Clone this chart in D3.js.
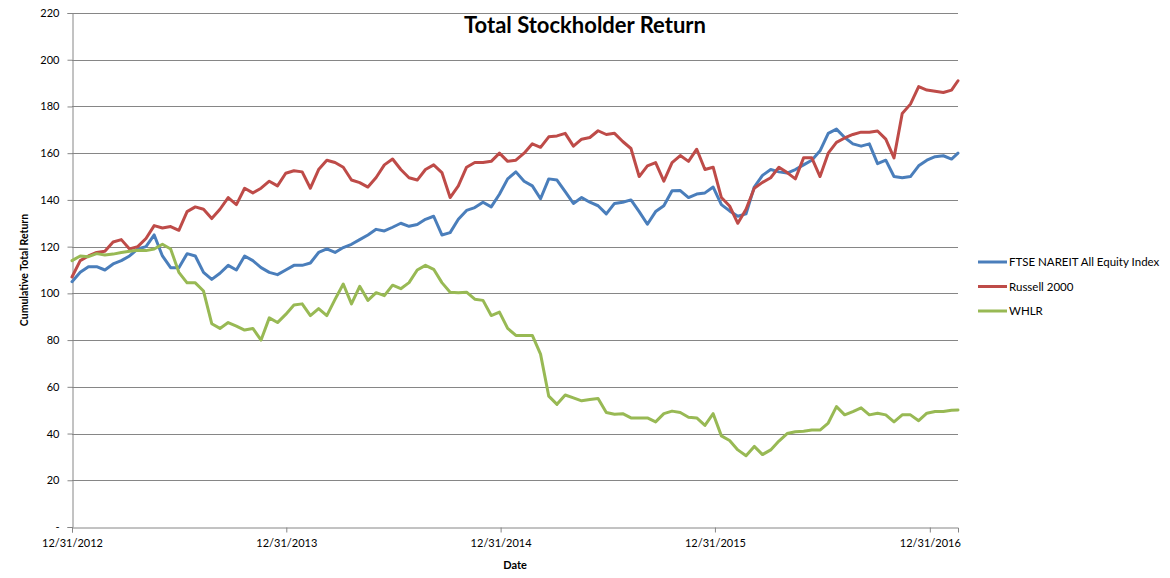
<!DOCTYPE html>
<html>
<head>
<meta charset="utf-8">
<script src="https://cdn.jsdelivr.net/npm/d3@7/dist/d3.min.js"></script>
<style>
  html, body { margin: 0; padding: 0; background: #fff; }
  svg { display: block; }
  text { font-family: Lato, "Open Sans", "DejaVu Sans", sans-serif; fill: #000; }
</style>
</head>
<body>
<svg id="chart" width="1170" height="578"></svg>
<script>
// ---- Data (biweekly samples) ----
const dates = [
  "2012-12-31","2013-01-14","2013-01-28","2013-02-11","2013-02-25","2013-03-11","2013-03-25","2013-04-08","2013-04-22","2013-05-06",
  "2013-05-20","2013-06-03","2013-06-17","2013-07-01","2013-07-15","2013-07-29","2013-08-12","2013-08-26","2013-09-09","2013-09-23",
  "2013-10-07","2013-10-21","2013-11-04","2013-11-18","2013-12-02","2013-12-16","2013-12-30","2014-01-13","2014-01-27","2014-02-10",
  "2014-02-24","2014-03-10","2014-03-24","2014-04-07","2014-04-21","2014-05-05","2014-05-19","2014-06-02","2014-06-16","2014-06-30",
  "2014-07-14","2014-07-28","2014-08-11","2014-08-25","2014-09-08","2014-09-22","2014-10-06","2014-10-20","2014-11-03","2014-11-17",
  "2014-12-01","2014-12-15","2014-12-29","2015-01-12","2015-01-26","2015-02-09","2015-02-23","2015-03-09","2015-03-23","2015-04-06",
  "2015-04-20","2015-05-04","2015-05-18","2015-06-01","2015-06-15","2015-06-29","2015-07-13","2015-07-27","2015-08-10","2015-08-24",
  "2015-09-07","2015-09-21","2015-10-05","2015-10-19","2015-11-02","2015-11-16","2015-11-30","2015-12-14","2015-12-28","2016-01-11",
  "2016-01-25","2016-02-08","2016-02-22","2016-03-07","2016-03-21","2016-04-04","2016-04-18","2016-05-02","2016-05-16","2016-05-30",
  "2016-06-13","2016-06-27","2016-07-11","2016-07-25","2016-08-08","2016-08-22","2016-09-05","2016-09-19","2016-10-03","2016-10-17",
  "2016-10-31","2016-11-14","2016-11-28","2016-12-12","2016-12-26","2017-01-09","2017-01-23","2017-02-06","2017-02-17"
];

const ftseNareit = [
  105,109,111.4,111.4,110,112.6,114,116,119,120,
  125,116,111,111,117,116,109,106,108.6,112,
  110,116,114,111,109,108,110,112,112,113,
  117.5,119,117.5,119.6,121,123,125,127.4,126.7,128.3,
  130,128.7,129.5,131.7,133,125,126,131.7,135.5,136.7,
  139,137,142.4,149,152,148,146,140.5,149,148.5,
  143.5,138.5,141,139,137.5,134,138.5,139,140,135,
  129.6,135,137.5,143.9,144,141,142.5,143,145.5,138,
  135.3,133,134,145.5,150.5,153,152,151.5,153,155,
  157,161,168.5,170.3,166.7,164,163,164,155.5,157,
  150,149.5,150,154.6,157,158.5,158.9,157.5,160
];

const russell2000 = [
  107,114,116,117.5,118,122,123,119,120,123.5,
  129,128,128.6,127,135,137,136,132,136,141,
  138,145,143,145,148,146,151.4,152.5,152,145,
  153,157,156,154,148.5,147.4,145.5,149.6,155,157.5,
  153,149.5,148.5,153,155,151.7,141,146,154,156,
  156,156.5,160,156.5,157,160,164,162.5,167,167.4,
  168.5,163,166,166.7,169.6,168,168.5,165,162,150,
  154.6,156,148,156,159,156.5,161.7,153,154,141,
  137.4,130,136,145,147.5,149.5,154,151.7,149,158,
  158,150,160,164.6,166.5,168,169,169,169.5,166,
  158,177,181,188.5,187,186.5,186,187,191
];

const whlr = [
  114,116,115.7,117,116.4,116.8,117.5,118,118.5,118.3,
  119,121,119,109,104.5,104.5,101,87,85,87.5,
  86,84.3,85,80,89.5,87.5,91,95,95.5,90.5,
  93.5,90.5,97.4,104,95.5,103,97,100.3,99,103.5,
  102,104.6,110,112,110.3,104.6,100.5,100.3,100.5,97.5,
  97,90.5,92,85,82,82,82,74,56,52.5,
  56.5,55.3,54,54.6,55,49,48.3,48.5,46.7,46.7,
  46.7,45,48.5,49.6,49,47,46.7,43.5,48.5,39,
  37,33,30.5,34.5,31,33,36.8,40,40.8,41,
  41.5,41.5,44.5,51.5,48,49.4,51,48,48.7,48,
  45,48,48,45.5,48.7,49.4,49.4,50,50.1
];

const seriesNames = ["FTSE NAREIT All Equity Index", "Russell 2000", "WHLR"];
const seriesColors = ["#4A7EBB", "#BE4B48", "#98B954"];
const yTickValues = [0, 20, 40, 60, 80, 100, 120, 140, 160, 180, 200, 220];
const xTickDates = ["2012-12-31", "2013-12-31", "2014-12-31", "2015-12-31", "2016-12-31"];

// ---- Layout ----
const W = 1170, H = 578;
const plot = { left: 72, right: 958, top: 13, bottom: 527 };

const parse = d3.timeParse("%Y-%m-%d");
const fmt = d3.timeFormat("%-m/%-d/%Y");
const dateObjs = dates.map(parse);

const x = d3.scaleTime()
  .domain([parse("2012-12-31"), parse("2017-02-17")])
  .range([plot.left, plot.right]);
const y = d3.scaleLinear().domain([0, 220]).range([plot.bottom, plot.top]);

const svg = d3.select("#chart");
svg.append("rect").attr("width", W).attr("height", H).attr("fill", "#fff");

// Gridlines
svg.append("g")
  .selectAll("line")
  .data(yTickValues.filter(v => v > 0))
  .join("line")
  .attr("x1", plot.left).attr("x2", plot.right)
  .attr("y1", d => Math.round(y(d)) + 0.5).attr("y2", d => Math.round(y(d)) + 0.5)
  .attr("stroke", "#868686").attr("stroke-width", 1);

// Y axis
const yAxis = d3.axisLeft(y)
  .tickValues(yTickValues)
  .tickSize(5)
  .tickPadding(8)
  .tickFormat(d => d === 0 ? "-" : d3.format("d")(d));
const gy = svg.append("g")
  .attr("transform", `translate(${plot.left + 0.5},0)`)
  .call(yAxis);
gy.select(".domain").attr("stroke", "#868686");
gy.selectAll(".tick line").attr("stroke", "#868686");
gy.selectAll(".tick text").attr("font-size", 11).attr("font-family", "Lato, sans-serif").attr("fill", "#000");

// X axis
const xAxis = d3.axisBottom(x)
  .tickValues(xTickDates.map(parse))
  .tickSize(5)
  .tickPadding(7)
  .tickFormat(fmt);
const gx = svg.append("g")
  .attr("transform", `translate(0,${plot.bottom + 0.5})`)
  .call(xAxis);
gx.select(".domain").attr("stroke", "#868686");
gx.selectAll(".tick line").attr("stroke", "#868686");
gx.selectAll(".tick text").attr("font-size", 11).attr("font-family", "Lato, sans-serif").attr("fill", "#000");

// Lines
const allSeries = [ftseNareit, russell2000, whlr];
const line = d3.line()
  .x((d, i) => x(dateObjs[i]))
  .y(d => y(d))
  .curve(d3.curveLinear);

allSeries.forEach((vals, si) => {
  svg.append("path")
    .datum(vals)
    .attr("d", line)
    .attr("fill", "none")
    .attr("stroke", seriesColors[si])
    .attr("stroke-width", 3)
    .attr("stroke-linejoin", "round")
    .attr("stroke-linecap", "round");
});

// Title
svg.append("text")
  .attr("x", 585).attr("y", 33)
  .attr("text-anchor", "middle")
  .attr("font-size", 22).attr("font-weight", "bold")
  .text("Total Stockholder Return");

// Axis titles
svg.append("text")
  .attr("x", 515).attr("y", 569)
  .attr("text-anchor", "middle")
  .attr("font-size", 11).attr("font-weight", "bold")
  .text("Date");

svg.append("text")
  .attr("transform", "translate(28,270) rotate(-90)")
  .attr("text-anchor", "middle")
  .attr("font-size", 10.5).attr("font-weight", "bold")
  .text("Cumulative Total Return");

// Legend
const legend = svg.append("g").attr("transform", "translate(978,262)");
seriesNames.forEach((name, i) => {
  const g = legend.append("g").attr("transform", `translate(0,${i * 24.5})`);
  g.append("line").attr("x1", 0).attr("x2", 29).attr("y1", 0).attr("y2", 0)
    .attr("stroke", seriesColors[i]).attr("stroke-width", 3);
  g.append("text").attr("x", 31).attr("y", 4)
    .attr("font-size", 11.5)
    .text(name);
});
</script>
</body>
</html>
